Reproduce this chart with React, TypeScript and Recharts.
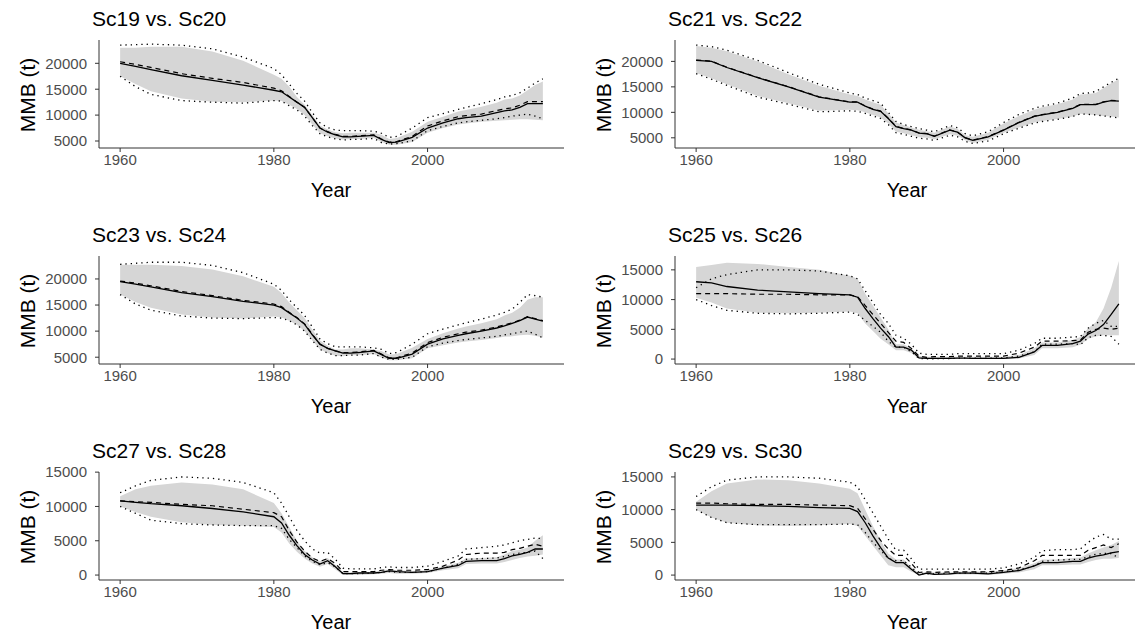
import { Area, ComposedChart, Line, XAxis, YAxis } from "recharts";

const YEARS = [
  1960, 1962, 1964, 1968, 1972, 1976, 1980, 1981, 1982, 1983, 1984, 1985,
  1986, 1987, 1988, 1989, 1990, 1991, 1993, 1994, 1995, 1996, 1998, 2000,
  2002, 2004, 2005, 2007, 2009, 2010, 2011, 2012, 2013, 2014, 2015,
];
const YEAR_TICKS = [1960, 1980, 2000];

// Sc19 vs. Sc20
const sc19Solid = [20000, 19400, 18800, 17600, 16700, 15800, 14800, 14500, 13500, 12500, 11500, 9500, 7500, 6700, 6200, 5800, 5800, 5900, 6100, 5300, 4700, 4800, 5700, 7500, 8500, 9300, 9500, 9800, 10500, 10800, 11000, 11500, 12200, 12200, 12200];
const sc20Dashed = [20300, 19800, 19200, 18000, 17100, 16300, 15200, 14700, 13600, 12500, 11500, 9500, 7500, 6800, 6300, 5900, 5900, 6000, 6200, 5400, 4800, 4900, 5900, 7900, 8900, 9700, 9900, 10200, 10900, 11200, 11400, 11900, 12600, 12600, 12600];
const sc19Lo = [17500, 16000, 14600, 13200, 12600, 12500, 12800, 12700, 12000, 11200, 10000, 8200, 6500, 5900, 5500, 5300, 5400, 5400, 5600, 4800, 4300, 4300, 4800, 6600, 7500, 8200, 8400, 8700, 8900, 9000, 9100, 9200, 9200, 9100, 9000];
const sc19Hi = [23000, 23000, 23200, 23200, 22300, 20500, 17800, 17000, 15500, 13500, 12000, 10000, 8000, 7200, 6700, 6500, 6600, 6600, 6600, 6200, 5400, 5600, 6800, 8700, 9700, 10700, 11000, 11600, 12400, 13000, 13200, 13800, 14800, 15800, 16500];
const sc20Lo = [17500, 15500, 14000, 12800, 12500, 12300, 12800, 12700, 11800, 11000, 9800, 8000, 6400, 5800, 5400, 5200, 5300, 5300, 5500, 4700, 4400, 4500, 5000, 7000, 7800, 8500, 8700, 9000, 9300, 9500, 9800, 10000, 10200, 9800, 9300];
const sc20Hi = [23500, 23600, 23700, 23500, 22800, 21200, 19000, 17800, 16000, 14200, 12700, 10500, 8500, 7600, 7100, 7000, 7000, 7000, 6900, 6500, 5700, 5900, 7500, 9500, 10300, 11100, 11500, 12200, 13000, 13500, 13800, 14300, 15200, 16200, 17000];

// Sc21 vs. Sc22
const sc21Solid = [20200, 20000, 18800, 16800, 15000, 13000, 12000, 12000, 11200, 10600, 10200, 8800, 7200, 6800, 6500, 5900, 5800, 5300, 6500, 6100, 5000, 4500, 5200, 6500, 8000, 9200, 9500, 10000, 10800, 11500, 11500, 11500, 12000, 12300, 12200];
const sc22Dashed = [20250, 20050, 18850, 16850, 15050, 13050, 12050, 12050, 11250, 10650, 10250, 8850, 7250, 6850, 6550, 5950, 5850, 5350, 6550, 6150, 5050, 4550, 5250, 6550, 8050, 9250, 9550, 10050, 10850, 11550, 11550, 11550, 12050, 12350, 12250];
const sc21Lo = [17700, 16700, 15500, 13200, 11800, 10300, 10500, 10400, 10000, 9500, 9000, 7800, 6200, 5900, 5500, 5100, 5000, 4700, 5700, 5400, 4500, 4000, 4600, 6000, 7000, 8000, 8300, 8700, 9200, 9700, 9600, 9500, 9300, 9200, 9000];
const sc21Hi = [23000, 22700, 22000, 20000, 17500, 15200, 13500, 13200, 12500, 12000, 11500, 9800, 8000, 7500, 7000, 6600, 6300, 6000, 7200, 6800, 5500, 5200, 6000, 7800, 9300, 10500, 11000, 11600, 12500, 13500, 13600, 13800, 14800, 15700, 16500];
const sc22Lo = [17600, 16500, 15300, 13000, 11600, 10100, 10300, 10200, 9800, 9300, 8800, 7600, 6000, 5700, 5300, 4900, 4800, 4500, 5500, 5200, 4300, 3900, 4400, 5800, 6900, 7900, 8200, 8600, 9200, 9700, 9600, 9500, 9300, 9100, 8900];
const sc22Hi = [23200, 22900, 22200, 20200, 17800, 15500, 13800, 13500, 12800, 12300, 11800, 10000, 8200, 7600, 7200, 6800, 6500, 6200, 7400, 7000, 5800, 5400, 6200, 8000, 9600, 10800, 11200, 11800, 12800, 13700, 13800, 14100, 15000, 15900, 16700];

// Sc23 vs. Sc24
const sc23Solid = [19500, 19000, 18500, 17400, 16600, 15700, 15000, 14500, 13500, 12500, 11300, 9300, 7500, 6700, 6200, 5800, 5800, 5900, 6200, 5500, 4800, 4800, 5600, 7500, 8500, 9200, 9500, 10000, 10600, 11000, 11500, 12000, 12700, 12300, 11900];
const sc24Dashed = [19600, 19200, 18700, 17600, 16800, 15900, 15200, 14700, 13600, 12600, 11400, 9400, 7500, 6700, 6200, 5900, 5900, 6000, 6300, 5600, 4900, 4900, 5800, 7800, 8800, 9500, 9800, 10200, 10800, 11200, 11600, 12100, 12800, 12400, 12000];
const sc23Lo = [17000, 15600, 14500, 13200, 12600, 12400, 12800, 12600, 12000, 11200, 10000, 8200, 6500, 5800, 5300, 5200, 5400, 5400, 5600, 4900, 4400, 4400, 4800, 6700, 7300, 7800, 8000, 8300, 8700, 8900, 9000, 9200, 9300, 9100, 8800];
const sc23Hi = [22700, 22700, 22700, 22500, 21800, 20500, 18500, 17300, 15500, 14000, 12500, 10300, 8200, 7200, 6500, 6500, 6700, 6700, 6500, 6200, 5500, 5600, 6800, 8500, 9600, 10500, 10900, 11500, 12300, 13000, 13500, 14500, 16000, 16500, 16500];
const sc24Lo = [17000, 15200, 14000, 12900, 12500, 12400, 12600, 12500, 12000, 11200, 10000, 8200, 6500, 5800, 5300, 5300, 5400, 5400, 5700, 5000, 4600, 4600, 5000, 7000, 7700, 8200, 8400, 8700, 9000, 9300, 9500, 9800, 10000, 9400, 8700];
const sc24Hi = [22800, 23000, 23200, 23200, 22600, 21200, 19000, 17800, 16000, 14500, 13000, 10800, 8500, 7600, 7000, 7000, 7000, 7000, 6800, 6500, 5700, 5900, 7500, 9500, 10400, 11200, 11600, 12300, 13100, 13600, 14200, 15500, 17000, 16800, 16500];

// Sc25 vs. Sc26
const sc25Solid = [13000, 12800, 12200, 11600, 11300, 11000, 10800, 10400, 8500, 6800, 5200, 3800, 2000, 2000, 1500, 200, 100, 100, 100, 150, 150, 100, 100, 100, 300, 1200, 2300, 2300, 2600, 3000, 4200, 4800, 5800, 7500, 9300];
const sc26Dashed = [11000, 11000, 11000, 10900, 10900, 10800, 10800, 10500, 9000, 7500, 6000, 4500, 3000, 2800, 1800, 500, 300, 400, 400, 500, 500, 500, 500, 500, 1000, 2000, 3000, 3000, 3100, 3200, 4500, 5000, 5200, 5000, 5200];
const sc25Lo = [10300, 9500, 8500, 7800, 7700, 7800, 8000, 7700, 6000, 4700, 3400, 2500, 1500, 1500, 1000, 0, 0, 0, 0, 0, 0, 0, 0, 0, 100, 700, 1800, 1800, 2000, 2400, 3400, 3800, 4000, 4000, 4000];
const sc25Hi = [15500, 15800, 16200, 16000, 15500, 15000, 14000, 13500, 11000, 9000, 7000, 5000, 2500, 2500, 1800, 500, 400, 400, 400, 400, 400, 400, 400, 400, 700, 1800, 2800, 2800, 3200, 3700, 5200, 6200, 8500, 12000, 16500];
const sc26Lo = [10000, 9000, 8200, 7700, 7600, 7700, 7900, 7500, 6500, 5500, 4500, 3000, 2000, 2000, 1200, 100, 50, 50, 100, 150, 150, 150, 150, 200, 500, 1200, 2500, 2500, 2600, 2400, 3600, 4000, 4000, 3800, 2500];
const sc26Hi = [12000, 13500, 14200, 15000, 15000, 14800, 14000, 13500, 11500, 9500, 7500, 6000, 4000, 3500, 2500, 1000, 800, 800, 800, 900, 900, 900, 900, 900, 1500, 2600, 3500, 3500, 3700, 3800, 5200, 6000, 6500, 5500, 5500];

// Sc27 vs. Sc28
const sc27Solid = [10800, 10600, 10400, 10100, 9700, 9200, 8500, 7600, 5800, 4300, 3000, 2200, 1600, 2100, 1200, 200, 200, 300, 300, 400, 600, 500, 400, 500, 1000, 1400, 2000, 2100, 2100, 2400, 2800, 3000, 3300, 3800, 3800];
const sc28Dashed = [10800, 10700, 10600, 10300, 10100, 9600, 9100, 8500, 6500, 4800, 3500, 2500, 2000, 2400, 1700, 500, 500, 500, 500, 700, 800, 700, 700, 800, 1300, 2200, 3000, 3200, 3200, 3300, 3700, 3900, 4200, 4500, 4200];
const sc27Lo = [10000, 9200, 8500, 7700, 7300, 7200, 7000, 6200, 4600, 3400, 2400, 1700, 1200, 1600, 800, 0, 0, 0, 100, 200, 300, 200, 200, 300, 700, 1000, 1600, 1700, 1700, 1900, 2200, 2500, 2700, 2800, 3000];
const sc27Hi = [11500, 12500, 13000, 13500, 13200, 12500, 10500, 9000, 7000, 5000, 3500, 2600, 2000, 2500, 1500, 400, 400, 400, 500, 700, 800, 700, 600, 700, 1300, 1800, 2400, 2500, 2600, 3000, 3500, 3700, 4000, 5000, 5800];
const sc28Lo = [10000, 9000, 8000, 7500, 7300, 7200, 7200, 6800, 5200, 4000, 2800, 2000, 1500, 1800, 1200, 200, 200, 200, 300, 400, 500, 400, 400, 500, 1000, 1600, 2300, 2400, 2500, 2700, 3000, 3200, 3300, 3500, 2400];
const sc28Hi = [12000, 13000, 13800, 14300, 14100, 13500, 12000, 10500, 8500, 6500, 5000, 3800, 3200, 3300, 2300, 1000, 900, 900, 900, 1100, 1200, 1100, 1100, 1300, 2000, 2800, 3800, 4000, 4200, 4400, 4700, 5000, 5200, 5400, 5300];

// Sc29 vs. Sc30
const sc29Solid = [10700, 10700, 10700, 10600, 10500, 10300, 10200, 9700, 8000, 6000, 4200, 2600, 1900, 1900, 900, 0, 300, 100, 200, 300, 300, 300, 200, 400, 700, 1400, 1900, 1900, 2100, 2100, 2600, 2900, 3100, 3400, 3600];
const sc30Dashed = [11000, 11000, 10900, 10800, 10800, 10700, 10600, 10200, 8600, 7000, 5300, 4000, 3000, 3000, 1800, 400, 500, 400, 500, 500, 500, 500, 500, 700, 1100, 2200, 3000, 3000, 3000, 3000, 3800, 4200, 4600, 4200, 4800];
const sc29Lo = [10000, 8800, 8000, 7600, 7500, 7600, 7800, 7500, 6000, 4500, 3000, 1500, 1200, 1200, 500, 0, 100, 0, 0, 100, 100, 100, 0, 200, 400, 900, 1500, 1500, 1600, 1600, 2000, 2300, 2500, 2500, 2600];
const sc29Hi = [11200, 12800, 14000, 14600, 14500, 14000, 13200, 12500, 10000, 7500, 5300, 3300, 2400, 2400, 1200, 300, 500, 400, 400, 500, 600, 600, 500, 700, 1100, 1800, 2400, 2400, 2600, 2700, 3300, 3800, 4200, 4600, 5200];
const sc30Lo = [10000, 8800, 8000, 7700, 7700, 7700, 7800, 7700, 6500, 5000, 3800, 2500, 2200, 2200, 1200, 200, 200, 200, 300, 300, 300, 300, 300, 500, 800, 1400, 2100, 2300, 2400, 2400, 2800, 3200, 3300, 3300, 2600];
const sc30Hi = [12000, 13500, 14500, 15000, 15000, 14800, 14200, 13500, 11500, 9500, 7500, 5500, 3800, 3800, 2500, 900, 900, 900, 900, 900, 900, 900, 900, 1100, 1700, 2700, 3700, 3900, 3900, 4000, 5000, 5800, 6200, 5500, 5500];

const TICKS_HIGH = [5000, 10000, 15000, 20000];
const TICKS_LOW = [0, 5000, 10000, 15000];

const panels = [
  { title: "Sc19 vs. Sc20", col: 0, row: 0, domain: [3650, 24500], ticks: TICKS_HIGH, solid: sc19Solid, dashed: sc20Dashed, lo: sc19Lo, hi: sc19Hi, dLo: sc20Lo, dHi: sc20Hi },
  { title: "Sc21 vs. Sc22", col: 1, row: 0, domain: [3000, 24200], ticks: TICKS_HIGH, solid: sc21Solid, dashed: sc22Dashed, lo: sc21Lo, hi: sc21Hi, dLo: sc22Lo, dHi: sc22Hi },
  { title: "Sc23 vs. Sc24", col: 0, row: 1, domain: [3700, 24400], ticks: TICKS_HIGH, solid: sc23Solid, dashed: sc24Dashed, lo: sc23Lo, hi: sc23Hi, dLo: sc24Lo, dHi: sc24Hi },
  { title: "Sc25 vs. Sc26", col: 1, row: 1, domain: [-830, 17330], ticks: TICKS_LOW, solid: sc25Solid, dashed: sc26Dashed, lo: sc25Lo, hi: sc25Hi, dLo: sc26Lo, dHi: sc26Hi },
  { title: "Sc27 vs. Sc28", col: 0, row: 2, domain: [-720, 15020], ticks: TICKS_LOW, solid: sc27Solid, dashed: sc28Dashed, lo: sc27Lo, hi: sc27Hi, dLo: sc28Lo, dHi: sc28Hi },
  { title: "Sc29 vs. Sc30", col: 1, row: 2, domain: [-750, 15750], ticks: TICKS_LOW, solid: sc29Solid, dashed: sc30Dashed, lo: sc29Lo, hi: sc29Hi, dLo: sc30Lo, dHi: sc30Hi },
];

const FONT = '"Liberation Sans", Arial, sans-serif';
const ROW_TOPS = [0, 216, 432];
const COL_LEFTS = [0, 576];

function Panel({ p }: { p: (typeof panels)[number] }) {
  const data = YEARS.map((year, i) => ({
    year,
    band: [p.lo[i], p.hi[i]],
    solid: p.solid[i],
    dashed: p.dashed[i],
    dLo: p.dLo[i],
    dHi: p.dHi[i],
  }));

  return (
    <div
      style={{
        position: "absolute",
        left: COL_LEFTS[p.col],
        top: ROW_TOPS[p.row],
        width: 570,
        height: 214,
      }}
    >
      <div
        style={{
          position: "absolute",
          left: 92,
          top: 7,
          fontSize: 21,
          lineHeight: "24px",
          color: "#000",
          whiteSpace: "nowrap",
        }}
      >
        {p.title}
      </div>
      <div
        style={{
          position: "absolute",
          left: 28,
          top: 95,
          transform: "translate(-50%, -50%) rotate(-90deg)",
          fontSize: 21,
          whiteSpace: "nowrap",
        }}
      >
        MMB (t)
      </div>
      <div
        style={{
          position: "absolute",
          left: 331,
          top: 190,
          transform: "translate(-50%, -50%)",
          fontSize: 20,
          whiteSpace: "nowrap",
        }}
      >
        Year
      </div>
      <div style={{ position: "absolute", left: 0, top: 0 }}>
        <ComposedChart
          width={570}
          height={172}
          data={data}
          margin={{ top: 40, right: 6, bottom: 0, left: 39 }}
        >
          <XAxis
            dataKey="year"
            type="number"
            domain={[1957.25, 2017.75]}
            ticks={YEAR_TICKS}
            height={24}
            allowDataOverflow
            tickSize={4}
            tickMargin={2}
            stroke="#333333"
            tick={{ fontSize: 15, fill: "#4d4d4d", fontFamily: FONT }}
          />
          <YAxis
            type="number"
            domain={p.domain}
            ticks={p.ticks}
            width={60}
            allowDataOverflow
            tickSize={4}
            tickMargin={8}
            stroke="#333333"
            tick={{ fontSize: 15, fill: "#4d4d4d", fontFamily: FONT }}
          />
          <Area
            dataKey="band"
            type="linear"
            fill="#d6d6d6"
            fillOpacity={1}
            stroke="none"
            isAnimationActive={false}
          />
          <Line dataKey="dHi" type="linear" stroke="#000" strokeWidth={1.3} strokeDasharray="1.3 4" dot={false} isAnimationActive={false} />
          <Line dataKey="dLo" type="linear" stroke="#000" strokeWidth={1.3} strokeDasharray="1.3 4" dot={false} isAnimationActive={false} />
          <Line dataKey="dashed" type="linear" stroke="#000" strokeWidth={1.2} strokeDasharray="5 4" dot={false} isAnimationActive={false} />
          <Line dataKey="solid" type="linear" stroke="#000" strokeWidth={1.3} dot={false} isAnimationActive={false} />
        </ComposedChart>
      </div>
    </div>
  );
}

export default function App() {
  return (
    <div
      style={{
        position: "fixed",
        left: 0,
        top: 0,
        width: 1135,
        height: 640,
        overflow: "hidden",
        background: "#fff",
        fontFamily: FONT,
      }}
    >
      {panels.map((p) => (
        <Panel key={p.title} p={p} />
      ))}
    </div>
  );
}
